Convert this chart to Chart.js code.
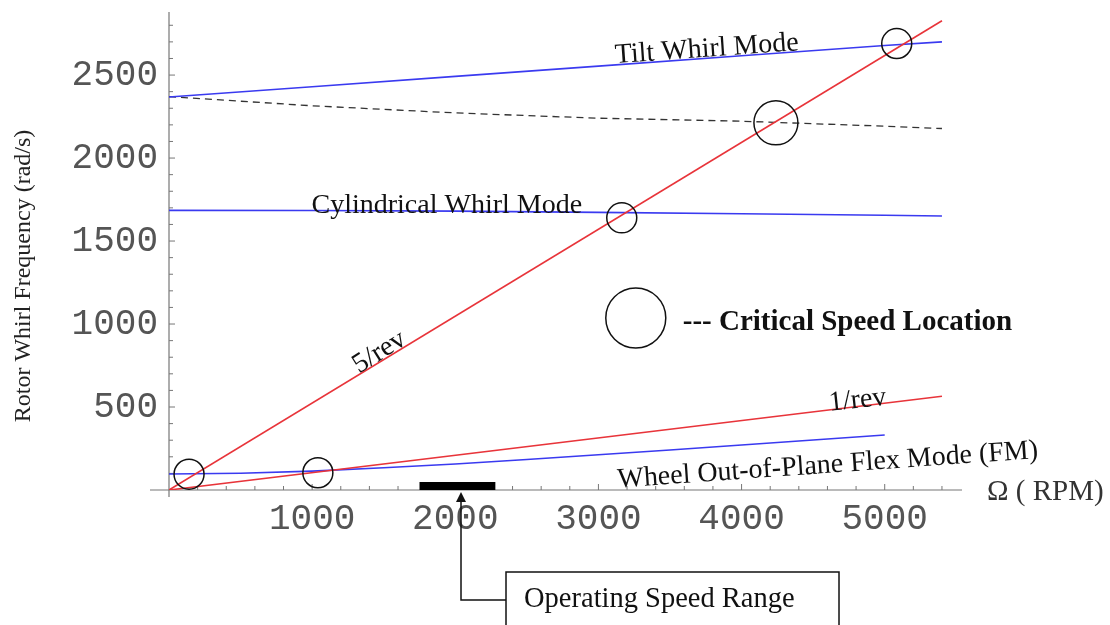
<!DOCTYPE html>
<html>
<head>
<meta charset="utf-8">
<script src="https://cdn.jsdelivr.net/npm/chart.js@4"></script>
<style>
  body { margin: 0; background: #fff; }
  canvas { display: block; }
</style>
</head>
<body>
<canvas id="chart" width="1110" height="625"></canvas>
<script>
// rotor speed (RPM) and whirl frequencies (rad/s)
const revRpm = [0, 5400];
const rev5 = [0, 2827];
const rev1 = [0, 565];

const modeRpm = [0, 1000, 2000, 3000, 4000, 5000, 5400];
const tiltFwd = [2368, 2430, 2492, 2554, 2616, 2678, 2700];
const tiltBwd = [2370, 2315, 2272, 2240, 2222, 2192, 2178];
const cylMode = [1685, 1684, 1680, 1673, 1664, 1655, 1651];

const flexRpm = [0, 500, 1000, 1500, 2000, 2500, 3000, 3500, 4000, 4500, 5000];
const flexMode = [96, 101, 114, 134, 157, 184, 212, 241, 271, 301, 331];

// critical speed markers
const critRpm = [140, 1040, 3163, 5084];
const critFreq = [95, 104, 1640, 2690];
const bigCritRpm = [4240];
const bigCritFreq = [2212];
const keyRpm = [3261];
const keyFreq = [1036];

// operating speed range (RPM)
const opRange = [1750, 2280];
const opArrowRpm = 2040;

const xTicks = [1000, 2000, 3000, 4000, 5000];
const yTicks = [500, 1000, 1500, 2000, 2500];

function pts(xs, ys) {
  return xs.map((v, i) => ({ x: v, y: ys[i] }));
}

const serif = '"Liberation Serif", "Times New Roman", serif';
const mono = '"Liberation Mono", "Courier New", monospace';

// labels drawn along the curves, anchored in data coordinates
const curveLabels = [
  { text: 'Tilt Whirl Mode', x: 3757, y: 2655, angle: -4, align: 'center', bold: false },
  { text: 'Cylindrical Whirl Mode', x: 1941, y: 1712, angle: 0, align: 'center', bold: false },
  { text: '5/rev', x: 1470, y: 830, angle: -32, align: 'center', bold: false },
  { text: '1/rev', x: 4811, y: 540, angle: -6, align: 'center', bold: false },
  { text: 'Wheel Out-of-Plane Flex Mode (FM)', x: 4602, y: 148, angle: -4, align: 'center', bold: false },
  { text: '--- Critical Speed Location', x: 3589, y: 1010, angle: 0, align: 'left', bold: true }
];

// axes crossing at the origin, ticks on the inside (drawn under the data)
const axesAtOrigin = {
  id: 'axesAtOrigin',
  beforeDatasetsDraw(chart) {
    const { ctx, scales: { x, y } } = chart;
    const x0 = x.getPixelForValue(0);
    const y0 = y.getPixelForValue(0);
    ctx.save();
    ctx.strokeStyle = '#777';
    ctx.lineWidth = 1.2;
    ctx.beginPath();
    ctx.moveTo(x0 - 19, y0);
    ctx.lineTo(x.right, y0);
    ctx.moveTo(x0, y.top);
    ctx.lineTo(x0, y0 + 7);
    ctx.stroke();
    ctx.lineWidth = 1;
    x.ticks.forEach(t => {
      if (t.value <= 0 || t.value % 200 !== 0) return;
      const px = x.getPixelForValue(t.value);
      const len = t.value % 1000 === 0 ? 6 : 4;
      ctx.beginPath();
      ctx.moveTo(px, y0);
      ctx.lineTo(px, y0 - len);
      ctx.stroke();
    });
    y.ticks.forEach(t => {
      if (t.value <= 0 || t.value % 100 !== 0) return;
      const py = y.getPixelForValue(t.value);
      const len = t.value % 500 === 0 ? 6 : 4;
      ctx.beginPath();
      ctx.moveTo(x0, py);
      ctx.lineTo(x0 + len, py);
      ctx.stroke();
    });
    ctx.restore();
  }
};

const overlay = {
  id: 'overlay',
  afterDraw(chart) {
    const { ctx, scales: { x, y } } = chart;
    const y0 = y.getPixelForValue(0);
    ctx.save();

    // axis titles
    ctx.fillStyle = '#333';
    ctx.font = '29px ' + serif;
    ctx.textAlign = 'left';
    ctx.textBaseline = 'middle';
    ctx.fillText('\u03A9 ( RPM)', x.right + 25, y0 + 2);

    ctx.save();
    ctx.translate(24, (y.top + y0) / 2 + 25);
    ctx.rotate(-Math.PI / 2);
    ctx.textAlign = 'center';
    ctx.fillStyle = '#222';
    ctx.font = '24px ' + serif;
    ctx.fillText('Rotor Whirl Frequency (rad/s)', 0, 0);
    ctx.restore();

    // curve labels
    ctx.fillStyle = '#111';
    curveLabels.forEach(l => {
      ctx.save();
      ctx.translate(x.getPixelForValue(l.x), y.getPixelForValue(l.y));
      ctx.rotate(l.angle * Math.PI / 180);
      ctx.font = (l.bold ? 'bold 29px ' : '28px ') + serif;
      ctx.textAlign = l.align;
      ctx.textBaseline = 'middle';
      ctx.fillText(l.text, 0, 0);
      ctx.restore();
    });

    // operating speed range callout
    const ax = x.getPixelForValue(opArrowRpm);
    const boxLeft = ax + 45;
    const boxRight = boxLeft + 333;
    const boxTop = chart.height - 53;
    const lineY = boxTop + 28;
    ctx.strokeStyle = '#111';
    ctx.fillStyle = '#111';
    ctx.lineWidth = 1.5;
    ctx.beginPath();
    ctx.moveTo(ax, y0 + 8);
    ctx.lineTo(ax, lineY);
    ctx.lineTo(boxLeft, lineY);
    ctx.stroke();
    ctx.beginPath();
    ctx.moveTo(ax, y0 + 2);
    ctx.lineTo(ax - 5, y0 + 12);
    ctx.lineTo(ax + 5, y0 + 12);
    ctx.closePath();
    ctx.fill();
    ctx.strokeRect(boxLeft, boxTop, boxRight - boxLeft, 80);
    ctx.font = '28.5px ' + serif;
    ctx.textAlign = 'left';
    ctx.textBaseline = 'middle';
    ctx.fillText('Operating Speed Range', boxLeft + 18, lineY);

    ctx.restore();
  }
};

const circleStyle = {
  showLine: false,
  pointStyle: 'circle',
  pointBackgroundColor: 'rgba(0,0,0,0)',
  pointBorderColor: '#111',
  pointBorderWidth: 1.5,
  clip: false
};

const lineStyle = {
  showLine: true,
  pointRadius: 0,
  fill: false,
  tension: 0,
  borderWidth: 1.6
};

new Chart(document.getElementById('chart'), {
  type: 'scatter',
  data: {
    datasets: [
      { label: 'critical', data: pts(critRpm, critFreq), pointRadius: 15, ...circleStyle },
      { label: 'critical big', data: pts(bigCritRpm, bigCritFreq), pointRadius: 22, ...circleStyle },
      { label: 'key', data: pts(keyRpm, keyFreq), pointRadius: 30, ...circleStyle },
      { label: 'Operating Speed Range', data: pts(opRange, [18, 18]), ...lineStyle, borderColor: '#000', borderWidth: 10, borderCapStyle: 'butt' },
      { label: '5/rev', data: pts(revRpm, rev5), ...lineStyle, borderColor: '#e8343a' },
      { label: '1/rev', data: pts(revRpm, rev1), ...lineStyle, borderColor: '#e8343a' },
      { label: 'Tilt Whirl Mode', data: pts(modeRpm, tiltFwd), ...lineStyle, borderColor: '#3a3af0' },
      { label: 'Tilt Whirl Mode (backward)', data: pts(modeRpm, tiltBwd), ...lineStyle, borderColor: '#333', borderWidth: 1.3, borderDash: [7, 5] },
      { label: 'Cylindrical Whirl Mode', data: pts(modeRpm, cylMode), ...lineStyle, borderColor: '#3a3af0' },
      { label: 'Wheel Out-of-Plane Flex Mode (FM)', data: pts(flexRpm, flexMode), ...lineStyle, borderColor: '#3a3af0' }
    ]
  },
  options: {
    responsive: false,
    animation: false,
    devicePixelRatio: 1,
    // big marker circles would otherwise add auto padding at the top
    layout: { autoPadding: false, padding: { top: 12, right: 148, left: 0, bottom: 0 } },
    plugins: { legend: { display: false }, tooltip: { enabled: false } },
    scales: {
      x: {
        type: 'linear',
        position: 'bottom',
        bounds: 'data',
        min: 0,
        max: 5540,
        grid: { display: false },
        border: { display: false },
        ticks: {
          stepSize: 200,
          includeBounds: false,
          autoSkip: false,
          maxRotation: 0,
          padding: 0,
          color: '#555',
          font: { family: mono, size: 36 },
          callback: v => xTicks.includes(v) ? String(v) : ''
        },
        afterFit: s => { s.height = 135; }
      },
      y: {
        type: 'linear',
        position: 'left',
        bounds: 'data',
        min: 0,
        max: 2880,
        grid: { display: false },
        border: { display: false },
        ticks: {
          stepSize: 100,
          includeBounds: false,
          autoSkip: false,
          padding: 3,
          color: '#555',
          // small line height so the labels do not push the plot top down
          font: { family: mono, size: 36, lineHeight: 0.1 },
          callback: v => yTicks.includes(v) ? String(v) : ''
        },
        afterFit: s => { s.width = 169; }
      }
    }
  },
  plugins: [axesAtOrigin, overlay]
});
</script>
</body>
</html>
